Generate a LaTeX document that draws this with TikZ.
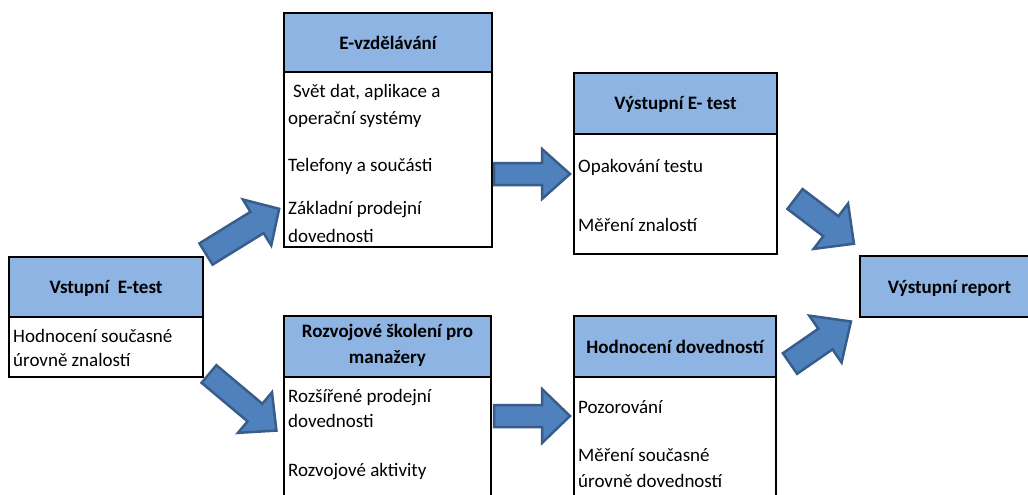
\documentclass[tikz,border=0pt]{standalone}
\usepackage{fontspec}
\setmainfont{Carlito}
\definecolor{hdrblue}{RGB}{141,180,226}
\definecolor{arrfill}{RGB}{79,129,189}
\definecolor{arrline}{RGB}{56,93,138}
\tikzset{
  boxline/.style={draw=black,line width=2pt},
  hdrbox/.style={boxline, fill=hdrblue},
  bodybox/.style={boxline, fill=white},
  txt/.style={anchor=base west, inner sep=0pt, font=\fontsize{19}{23}\selectfont},
  htxt/.style={anchor=base, inner sep=0pt, font=\fontsize{19}{23}\selectfont\bfseries},
  blockarrow/.style={fill=arrfill, draw=arrline, line width=2.5pt, line join=miter},
}
\newcommand{\blockarr}[7]{%
  \begin{scope}[shift={(#1,#2)},rotate=#3]
    \draw[blockarrow] (0,{#5/2}) -- ({#4-#7},{#5/2}) -- ({#4-#7},{#6/2}) -- (#4,0)
      -- ({#4-#7},{-#6/2}) -- ({#4-#7},{-#5/2}) -- (0,{-#5/2}) -- cycle;
  \end{scope}}
\begin{document}
\begin{tikzpicture}[x=1pt,y=-1pt]
\useasboundingbox (0,0) rectangle (1028,495);
\clip (0,0) rectangle (1028,495);
\fill[white] (0,0) rectangle (1028,495);

% Vstupni E-test
\draw[bodybox] (9,317) rectangle (203,377);
\draw[hdrbox] (9,257) rectangle (203,317);
\node[htxt] (h1) at (106,293) {Vstupní\ \ E-test};
\node[txt] (b1a) at (13,342) {Hodnocení současné};
\node[txt] (b1b) at (13,366) {úrovně znalostí};

% E-vzdelavani
\draw[bodybox] (284,72) rectangle (492,247);
\draw[hdrbox] (284,13) rectangle (492,72);
\node[htxt] (h2) at (388,50) {E-vzdělávání};
\node[txt] (b2a) at (293,97) {Svět dat, aplikace a};
\node[txt] (b2b) at (288,124) {operační systémy};
\node[txt] (b2c) at (288,171) {Telefony a součásti};
\node[txt] (b2d) at (288,214) {Základní prodejní};
\node[txt] (b2e) at (288,242) {dovednosti};

% Rozvojove skoleni
\draw[bodybox] (284,377) rectangle (491,510);
\draw[hdrbox] (284,316) rectangle (491,377);
\node[htxt] (h3a) at (387.5,337) {Rozvojové školení pro};
\node[htxt] (h3b) at (387.5,363) {manažery};
\node[txt] (b3a) at (288,402) {Rozšířené prodejní};
\node[txt] (b3b) at (288,427) {dovednosti};
\node[txt] (b3c) at (288,476) {Rozvojové aktivity};

% Vystupni E- test
\draw[bodybox] (574,134) rectangle (777,254);
\draw[hdrbox] (574,73) rectangle (777,134);
\node[htxt] (h4) at (675.5,110) {Výstupní E- test};
\node[txt] (b4a) at (578,172) {Opakování testu};
\node[txt] (b4b) at (578,231) {Měření znalostí};

% Hodnoceni dovednosti
\draw[bodybox] (574,377) rectangle (776,510);
\draw[hdrbox] (574,316) rectangle (776,377);
\node[htxt] (h5) at (675,353) {Hodnocení dovedností};
\node[txt] (b5a) at (578,413) {Pozorování};
\node[txt] (b5b) at (578,461) {Měření současné};
\node[txt] (b5c) at (578,487) {úrovně dovedností};

% Vystupni report
\draw[hdrbox] (860,256) rectangle (1040,317);
\node[htxt] (h6) at (949.5,293) {Výstupní report};

% block arrows
\blockarr{206}{254}{31.7}{86}{25}{54}{26}
\blockarr{209}{374}{-40}{88}{23}{53}{28}
\blockarr{494}{174}{0}{76}{22}{50}{28}
\blockarr{494}{416}{0}{76}{22}{54}{28}
\blockarr{795}{199}{-37.2}{74}{25}{57}{29}
\blockarr{790}{363.5}{34.6}{74}{25}{57}{31}
\end{tikzpicture}
\end{document}
